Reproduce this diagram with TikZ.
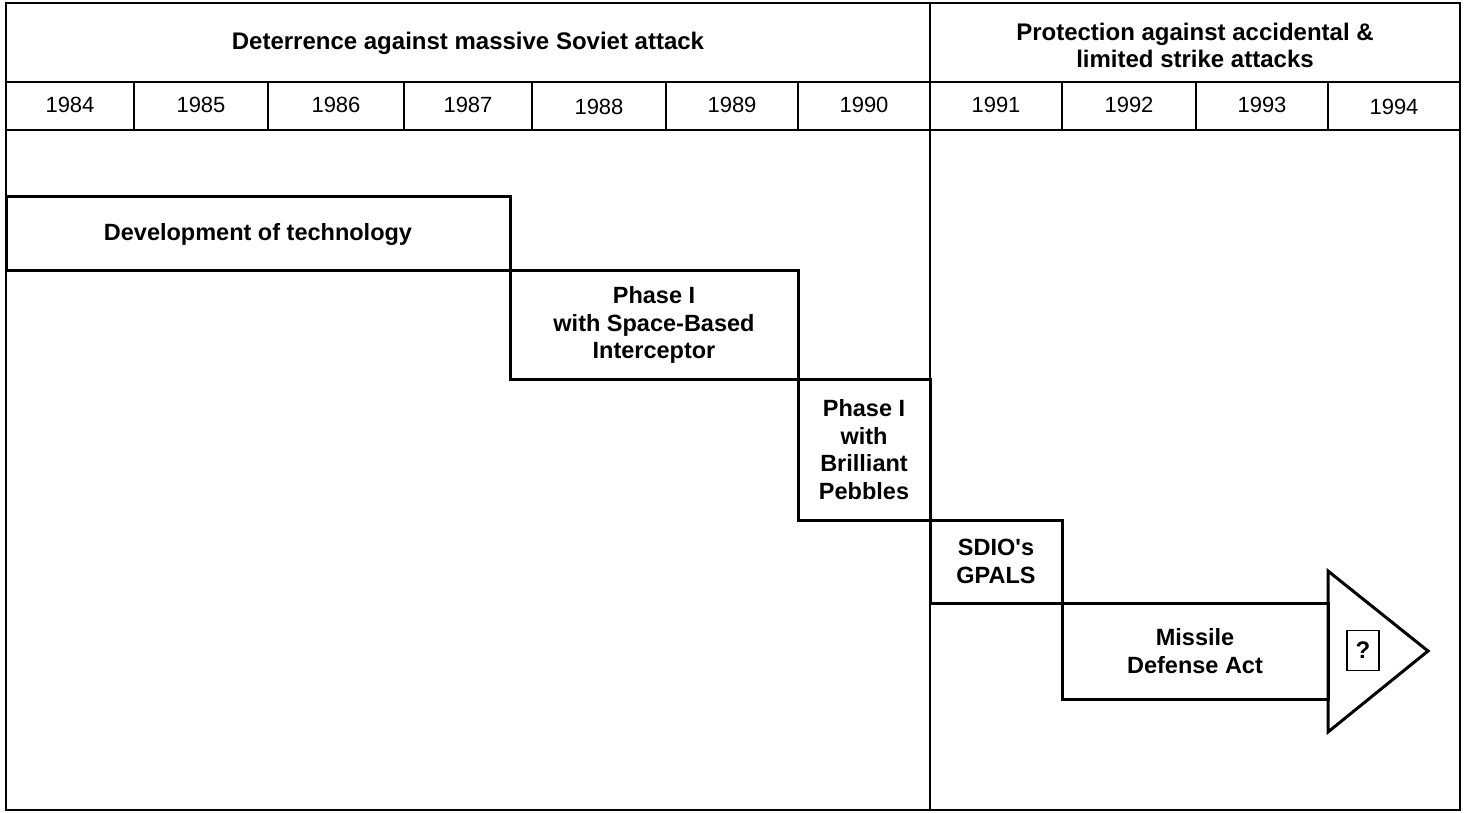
\documentclass[tikz,border=0pt]{standalone}
\usepackage{fontspec}
\setmainfont{Liberation Sans}
\begin{document}
\begin{tikzpicture}[x=1pt,y=-1pt,
  gridline/.style={line width=1.2pt},
  heavy/.style={line width=3pt, line join=miter},
  head/.style={font=\fontsize{24}{27}\selectfont\bfseries, align=center, inner sep=0pt},
  yr/.style={font=\fontsize{22}{26}\selectfont, inner sep=0pt},
  stage/.style={draw, line width=3pt, inner sep=0pt, outer sep=0pt, align=center,
    font=\fontsize{23.5}{27.5}\selectfont\bfseries},
]
\useasboundingbox (0,0) rectangle (1465,813);

% outer frame and header rows
\draw[gridline] (6,3) rectangle (1460,810);
\draw[gridline] (6,82) -- (1460,82);
\draw[gridline] (6,130) -- (1460,130);
\foreach \x in {134,268,404,532,666,798,1062,1196,1328}
  \draw[gridline] (\x,82) -- (\x,130);
\draw[line width=2pt] (930,3) -- (930,810);

% period headings
\node[head] (hdet) at (468,43) {Deterrence against massive Soviet attack};
\node[head] (hprot) at (1195,45.5) {Protection against accidental \&\\limited strike attacks};

% year labels
\foreach \yr/\cx/\cy in {1984/70/105,1985/201/105,1986/336/105,1987/468/105,
                         1988/599/107,1989/732/105,1990/864/105,1991/996/105,
                         1992/1129/105,1993/1262/105,1994/1394/107}
  \node[yr] (y\yr) at (\cx,\cy) {\yr};

% programme stages
\node[stage, minimum width=504, minimum height=74] (dev) at (258,234)
  {Development of technology};
\node[stage, minimum width=288, minimum height=108] (sbi) at (654,325)
  {Phase I\\with Space-Based\\Interceptor};
\node[stage, minimum width=132, minimum height=141] (bp) at (864,449.5)
  {Phase I\\with\\Brilliant\\Pebbles};
\node[stage, minimum width=132, minimum height=83] (gpals) at (996,561.5)
  {SDIO\textquotesingle s\\GPALS};
\node[stage, minimum width=266, minimum height=96] (mda) at (1195,651)
  {Missile\\Defense Act};

% arrow head continuing the last stage
\draw[heavy] (mda.east) ++(0,-80) -- ++(100,80) -- ++(-100,81) -- cycle;
\node[draw, line width=1.5pt, minimum width=32, minimum height=40, inner sep=0pt,
  font=\fontsize{24}{27}\selectfont\bfseries] (q) at (1363,650.5) {?};
\end{tikzpicture}
\end{document}
